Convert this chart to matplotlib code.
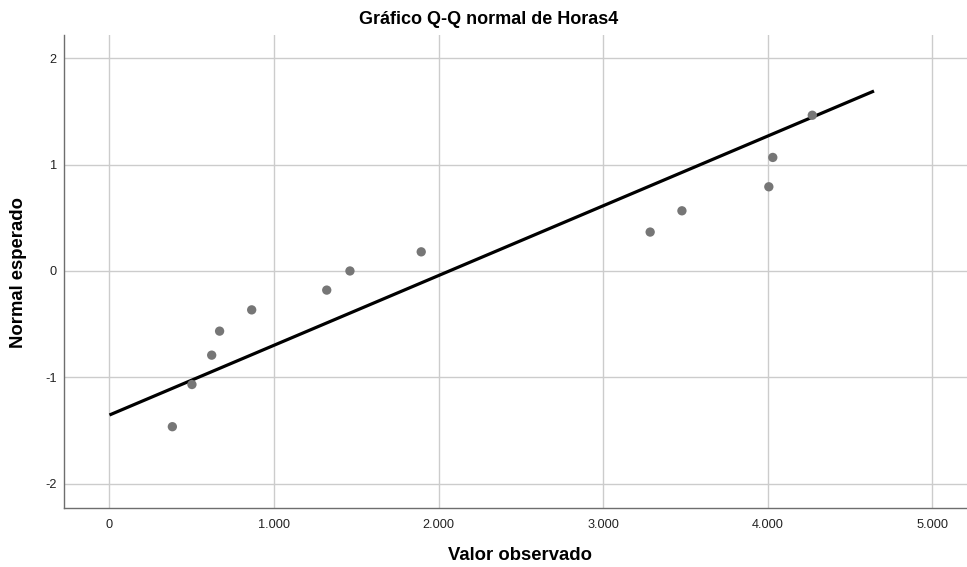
import matplotlib
matplotlib.use("Agg")
from matplotlib import pyplot as plt
import numpy as np

# observed values (Horas4) and expected normal quantiles
observed = [0.382, 0.501, 0.621, 0.669, 0.864, 1.320, 1.461, 1.894,
            3.285, 3.478, 4.006, 4.030, 4.270]
expected = [-1.465, -1.068, -0.792, -0.566, -0.366, -0.180, 0.0, 0.180,
            0.366, 0.566, 0.792, 1.068, 1.465]

# reference normal line
line_x = [0.0, 4.645]
line_mean = 2.065
line_sd = 1.524

x_ticks = [0, 1, 2, 3, 4, 5]
x_ticklabels = ["0", "1.000", "2.000", "3.000", "4.000", "5.000"]
y_ticks = [-2, -1, 0, 1, 2]

plt.rcParams['font.family'] = ['Liberation Sans', 'DejaVu Sans']
plt.rcParams['axes.unicode_minus'] = False

W, H = 967, 567
fig = plt.figure(figsize=(W / 100, H / 100), dpi=100)
ax = fig.add_axes([0.0659, 0.1046, 0.9341, 0.8337])

lx = np.array(line_x)
ly = (lx - line_mean) / line_sd
ax.plot(lx, ly, color="black", lw=2.3, solid_capstyle="butt", zorder=3)
ax.scatter(observed, expected, s=45, color="#767676", edgecolors="none", zorder=4)

ax.set_xlim(-0.278, 5.21)
ax.set_ylim(-2.227, 2.22)
ax.set_xticks(x_ticks)
ax.set_xticklabels(x_ticklabels)
ax.set_yticks(y_ticks)

ax.grid(True, color="#cccccc", lw=1.0)
ax.set_axisbelow(True)
for s in ["top", "right"]:
    ax.spines[s].set_visible(False)
for s in ["left", "bottom"]:
    ax.spines[s].set_color("#6e6e6e")
    ax.spines[s].set_linewidth(1.0)
ax.tick_params(length=0, labelsize=9.2, colors="#222222")
ax.tick_params(axis="x", pad=8)
ax.tick_params(axis="y", pad=5)

fig.text(489 / W, 1 - 20 / H, "Gráfico Q-Q normal de Horas4", fontsize=13,
         fontweight="bold", ha="center", va="center")
fig.text(520 / W, 1 - 555 / H, "Valor observado", fontsize=13.3,
         fontweight="bold", ha="center", va="center")
fig.text(19 / W, 1 - 272 / H, "Normal esperado", fontsize=13.3,
         fontweight="bold", ha="center", va="center", rotation=90)

fig.savefig("out.png", dpi=100)
